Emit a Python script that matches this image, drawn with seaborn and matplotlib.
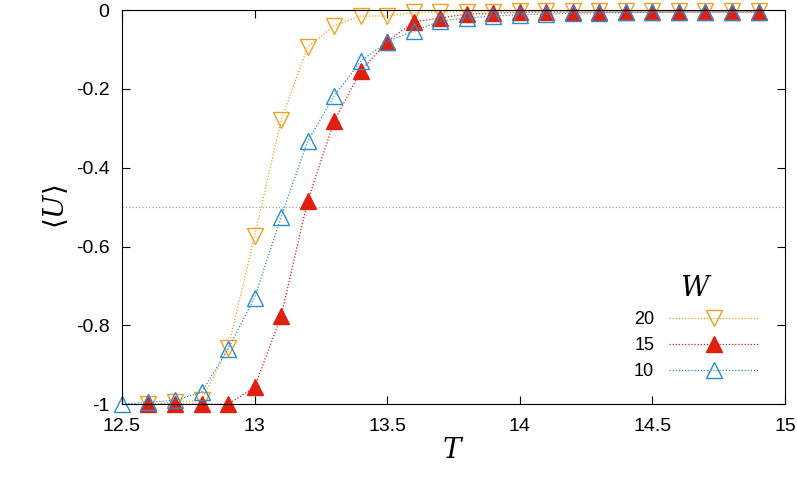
import numpy as np
import pandas as pd
import seaborn as sns
import matplotlib
matplotlib.use("Agg")
import matplotlib.pyplot as plt

T20 = [12.6,12.7,12.8,12.9,13.0,13.1,13.2,13.3,13.4,13.5,13.6,13.7,13.8,13.9,14.0,14.1,14.2,14.3,14.4,14.5,14.6,14.7,14.8,14.9]
U20 = [-1.0,-0.995,-0.99,-0.858,-0.574,-0.28,-0.094,-0.04,-0.015,-0.015,-0.006,-0.005,-0.004,-0.004,-0.003,-0.003,-0.003,-0.003,-0.003,-0.003,-0.003,-0.003,-0.003,-0.003]
T15 = [12.6,12.7,12.8,12.9,13.0,13.1,13.2,13.3,13.4,13.5,13.6,13.7,13.8,13.9,14.0,14.1,14.2,14.3,14.4,14.5,14.6,14.7,14.8,14.9]
U15 = [-1.0,-1.0,-1.0,-1.0,-0.957,-0.777,-0.485,-0.282,-0.155,-0.08,-0.03,-0.02,-0.01,-0.008,-0.006,-0.005,-0.005,-0.005,-0.005,-0.005,-0.005,-0.005,-0.005,-0.005]
T10 = [12.5,12.6,12.7,12.8,12.9,13.0,13.1,13.2,13.3,13.4,13.5,13.6,13.7,13.8,13.9,14.0,14.1,14.2,14.3,14.4,14.5,14.6,14.7,14.8,14.9]
U10 = [-1.0,-0.995,-0.99,-0.97,-0.86,-0.73,-0.525,-0.333,-0.218,-0.13,-0.08,-0.053,-0.028,-0.02,-0.015,-0.012,-0.01,-0.008,-0.007,-0.006,-0.006,-0.005,-0.005,-0.005,-0.005]

plt.rcParams["font.family"] = "Liberation Sans"
plt.rcParams["mathtext.fontset"] = "dejavuserif"
fig = plt.figure(figsize=(7.97, 4.8), dpi=100)
ax = fig.add_axes([0.153, 0.158, 0.832, 0.821])

ax.axhline(-0.5, color="#999999", lw=0.8, ls=(0, (1, 2)), zorder=0)
specs = [(T20, U20, "20", "#f0a020", "v", "none"),
         (T15, U15, "15", "#e0200f", "^", "#e0200f"),
         (T10, U10, "10", "#2a8ccc", "^", "none")]
for T, U, lab, c, m, fc in specs:
    df = pd.DataFrame({"T": T, "U": U})
    sns.lineplot(data=df, x="T", y="U", ax=ax, color=c, lw=0.9, ls=(0, (1, 1.5)),
                 marker=m, markersize=11, markerfacecolor=fc, markeredgecolor=c,
                 markeredgewidth=1.0, label=lab, clip_on=False)

ax.set_xlim(12.5, 15)
ax.set_ylim(-1, 0)
ax.set_xticks([12.5, 13, 13.5, 14, 14.5, 15])
ax.set_xticklabels(["12.5", "13", "13.5", "14", "14.5", "15"])
ax.set_yticks([-1, -0.8, -0.6, -0.4, -0.2, 0])
ax.set_yticklabels(["-1", "-0.8", "-0.6", "-0.4", "-0.2", "0"])
ax.tick_params(direction="in", labelsize=14, top=True, right=True, length=6)
ax.tick_params(axis="x", pad=10)
ax.tick_params(axis="y", pad=9)
ax.set_xlabel(r"$T$", fontsize=20, labelpad=2)
ax.set_ylabel(r"$\langle U\rangle$", fontsize=20)
leg = ax.legend(title=r"$W$", loc="lower right", frameon=False, fontsize=13,
                title_fontsize=20, markerfirst=False, handlelength=5,
                bbox_to_anchor=(0.985, 0.02))
fig.savefig("out.png", dpi=100)
